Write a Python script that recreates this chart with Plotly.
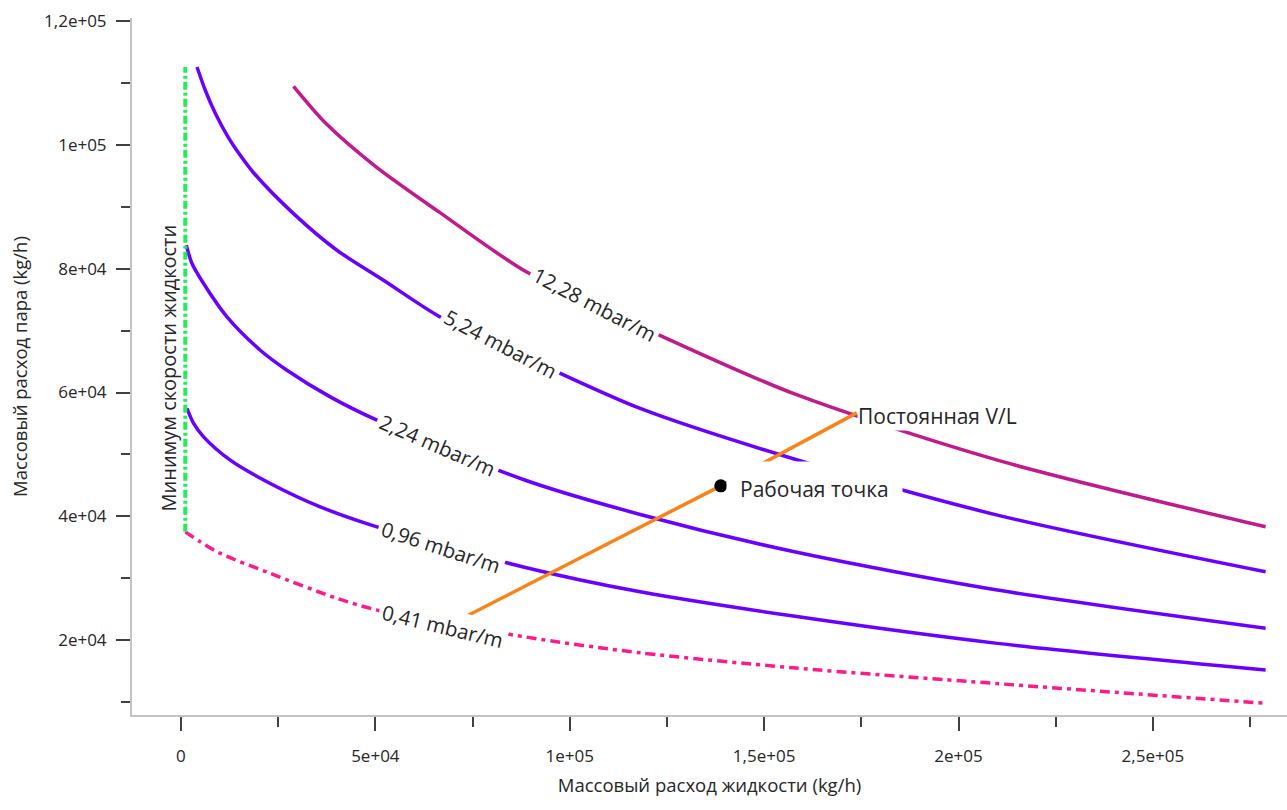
import plotly.graph_objects as go
import numpy as np

# ---------------- data ----------------
liq_1228 = [28950, 37375, 49834, 66445, 88594, 118125, 157500, 210000, 279000]
vap_1228 = [109460, 103400, 96620, 89130, 79590, 70700, 59840, 49070, 38300]

liq_524 = [4114, 6248, 8820, 12163, 15248, 18668, 28954, 40113, 52096, 66445, 88594, 118125, 157500, 210000, 279000]
vap_524 = [112580, 108830, 105120, 101230, 98320, 95500, 88900, 82980, 78130, 72280, 65700, 57420, 49300, 40190, 31030]

liq_224 = [1363, 2828, 5811, 11828, 20391, 27256, 38390, 50398, 88594, 118125, 157500, 210000, 279000]
vap_224 = [83780, 80830, 77600, 72210, 66830, 63600, 59290, 55530, 45820, 40300, 34300, 28080, 21900]

liq_096 = [1543, 3240, 5811, 12677, 22962, 35819, 50398, 88594, 118125, 157500, 210000, 279000]
vap_096 = [57420, 55000, 52830, 49070, 45310, 41530, 38300, 31740, 27800, 23880, 19470, 15160]

liq_041 = [1106, 4963, 10105, 22962, 40113, 50476, 88594, 118125, 157500, 210000, 279000]
vap_041 = [37490, 35880, 34010, 30780, 26740, 24850, 20510, 17940, 15520, 12970, 9785]

min_liq_x = [1106, 1106]
min_liq_y = [37490, 112580]

vl_x = [69500, 138850, 173830]
vl_y = [22600, 44920, 56710]

op_x = [138850]
op_y = [44920]

curve_labels = ["12,28 mbar/m", "5,24 mbar/m", "2,24 mbar/m", "0,96 mbar/m", "0,41 mbar/m"]

x_tickvals = [0, 50000, 100000, 150000, 200000, 250000]
x_ticktext = ["0", "5e+04", "1e+05", "1,5e+05", "2e+05", "2,5e+05"]
x_minor = [25000, 75000, 125000, 175000, 225000, 275000]
y_tickvals = [20000, 40000, 60000, 80000, 100000, 120000]
y_ticktext = ["2e+04", "4e+04", "6e+04", "8e+04", "1e+05", "1,2e+05"]
y_minor = [10000, 30000, 50000, 70000, 90000, 110000]

# ---------------- styles ----------------
FONT = "Open Sans"
TXT = "#262626"
VIOLET = "#6A00FF"
MAGENTA = "#C01A8C"
PINK = "#FF1A8C"
GREEN = "#22EE55"
ORANGE = "#FA8318"
LBL = 21

fig = go.Figure()

curves = [
    (liq_1228, vap_1228, MAGENTA, "solid"),
    (liq_524, vap_524, VIOLET, "solid"),
    (liq_224, vap_224, VIOLET, "solid"),
    (liq_096, vap_096, VIOLET, "solid"),
    (liq_041, vap_041, PINK, "10px,5px,4px,5px"),
]
for xs, ys, col, dash in curves:
    fig.add_trace(go.Scatter(x=xs, y=ys, mode="lines",
                             line=dict(color=col, width=3.5, dash=dash,
                                       shape="spline", smoothing=0.8),
                             hoverinfo="skip"))

fig.add_trace(go.Scatter(x=min_liq_x, y=min_liq_y, mode="lines",
                         line=dict(color=GREEN, width=4, dash="8px,3px,3px,3px"),
                         hoverinfo="skip"))
fig.add_trace(go.Scatter(x=vl_x, y=vl_y, mode="lines",
                         line=dict(color=ORANGE, width=3.5), hoverinfo="skip"))
fig.add_trace(go.Scatter(x=op_x, y=op_y, mode="markers",
                         marker=dict(color="black", size=13), hoverinfo="skip"))

# curve labels placed on the curves
label_x = [106270, 82360, 66030, 66930, 67320]
label_angle = [27.5, 27.5, 23.5, 18, 13.5]
label_yshift = [0, 2, 0, -3, -4]
for (xs, ys, _, _), lab, lx, ang, ysh in zip(curves, curve_labels, label_x, label_angle, label_yshift):
    ly = float(np.interp(lx, xs, ys))
    fig.add_annotation(x=lx, y=ly, text=lab, showarrow=False, textangle=ang,
                       font=dict(family=FONT, size=LBL - 0.5, color=TXT),
                       bgcolor="white", borderpad=3, yshift=ysh)

fig.add_annotation(x=op_x[0], y=op_y[0], text="Рабочая точка", showarrow=False,
                   xanchor="left", yanchor="middle", xshift=5, yshift=-3,
                   font=dict(family=FONT, size=LBL, color=TXT),
                   bgcolor="white", borderpad=13)
fig.add_annotation(x=vl_x[-1], y=vl_y[-1], text="Постоянная V/L", showarrow=False,
                   xanchor="left", yanchor="middle", xshift=0, yshift=-3,
                   font=dict(family=FONT, size=LBL, color=TXT),
                   bgcolor="white", borderpad=0)
fig.add_annotation(x=-2750, y=65220, text="Минимум скорости жидкости", showarrow=False,
                   textangle=-90, xshift=-2, yshift=-8,
                   font=dict(family=FONT, size=20, color=TXT))

axis_common = dict(showgrid=False, zeroline=False, showline=True, linewidth=2,
                   linecolor="#c4c4c4", ticks="outside", tickcolor="#404040",
                   tickwidth=2, tickfont=dict(family=FONT, size=17, color=TXT),
                   title_font=dict(family=FONT, size=18.5, color=TXT))

fig.update_xaxes(range=[-12600, 284500], tickmode="array", tickvals=x_tickvals,
                 ticktext=x_ticktext, ticklen=14, ticklabelstandoff=11,
                 minor=dict(tickmode="array", tickvals=x_minor, ticks="outside",
                            ticklen=10, tickcolor="#404040", tickwidth=2),
                 title_text="Массовый расход жидкости (kg/h)", title_standoff=13,
                 **axis_common)
fig.update_yaxes(range=[7900, 120500], tickmode="array", tickvals=y_tickvals,
                 ticktext=y_ticktext, ticklen=14, ticklabelstandoff=6,
                 minor=dict(tickmode="array", tickvals=y_minor, ticks="outside",
                            ticklen=9, tickcolor="#404040", tickwidth=2),
                 title_text="Массовый расход пара (kg/h)", title_standoff=12,
                 **axis_common)

fig.update_layout(width=1287, height=810, showlegend=False,
                  margin=dict(l=132, r=0, t=18, b=95),
                  plot_bgcolor="white", paper_bgcolor="white",
                  font=dict(family=FONT))

fig.write_html("out.html")
